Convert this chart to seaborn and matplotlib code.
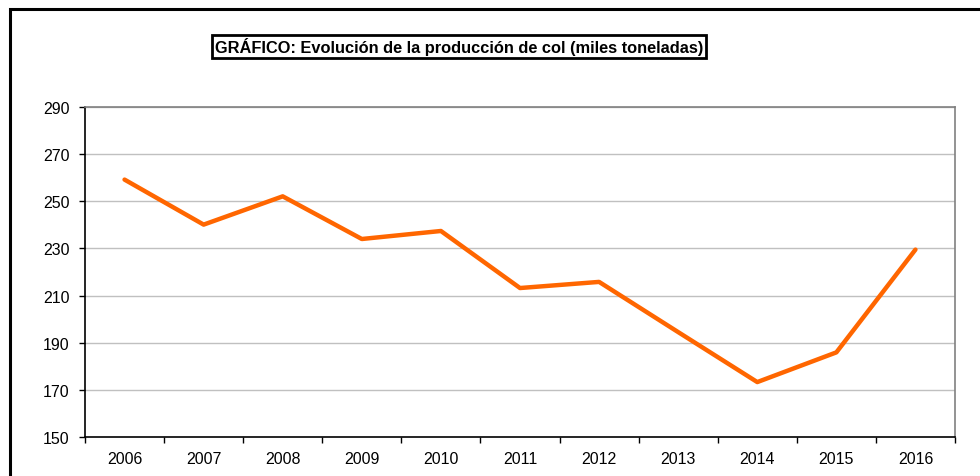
import matplotlib
matplotlib.use("Agg")
import matplotlib.pyplot as plt
from matplotlib.patches import Rectangle
from matplotlib.ticker import FixedLocator, NullFormatter
import pandas as pd
import seaborn as sns

# Production of cabbage, thousand tonnes
years = ["2006", "2007", "2008", "2009", "2010", "2011",
         "2012", "2013", "2014", "2015", "2016"]
produccion = [259.2, 240.1, 252.1, 234.0, 237.4, 213.2,
              215.8, 194.5, 173.3, 185.9, 229.5]
y_ticks = [150, 170, 190, 210, 230, 250, 270, 290]
titulo = "GRÁFICO: Evolución de la producción de col (miles toneladas)"

df = pd.DataFrame({"Año": years, "Producción": produccion})

sns.set_theme(style="white")
plt.rcParams["font.family"] = ["Liberation Sans", "DejaVu Sans"]

fig = plt.figure(figsize=(9.8, 4.77), dpi=100)
ax = fig.add_axes([85 / 980, 39 / 477, 870 / 980, 330 / 477])

sns.lineplot(data=df, x="Año", y="Producción", ax=ax,
             color="#FF6600", linewidth=3.2, sort=False)

ax.set_xlim(-0.5, len(years) - 0.5)
ax.set_ylim(y_ticks[0], y_ticks[-1])
ax.set_yticks(y_ticks)
ax.set_xlabel("")
ax.set_ylabel("")

# horizontal gridlines
ax.grid(False)
for v in y_ticks[1:]:
    ax.axhline(v, color="#C0C0C0", linewidth=1.0, zorder=0)

# category labels centred, tick marks on category boundaries
ax.xaxis.set_minor_locator(FixedLocator([i - 0.5 for i in range(len(years) + 1)]))
ax.xaxis.set_minor_formatter(NullFormatter())
ax.tick_params(axis="x", which="major", length=0, pad=10, labelsize=11.5, colors="black")
ax.tick_params(axis="x", which="minor", length=4, width=1, color="black", direction="out", bottom=True)
ax.tick_params(axis="y", which="major", length=4, width=1, color="black", direction="out",
               pad=7, labelsize=11.5, left=True, labelcolor="black")

for side in ("left", "bottom"):
    ax.spines[side].set_color("black")
    ax.spines[side].set_linewidth(1.2)
for side in ("top", "right"):
    ax.spines[side].set_color("#808080")
    ax.spines[side].set_linewidth(1.2)

# outer chart frame
fig.patches.append(Rectangle((10 / 980, -0.2), 1.2, (477 - 10) / 477 + 0.2,
                             transform=fig.transFigure, fill=False,
                             edgecolor="black", linewidth=2.2, clip_on=False))

fig.text(459 / 980, 1 - 47.5 / 477, titulo, ha="center", va="center",
         fontsize=11.8, fontweight="bold", color="black",
         bbox=dict(boxstyle="square,pad=0.18", facecolor="white",
                   edgecolor="black", linewidth=2))

fig.savefig("out.png", dpi=100, facecolor="white")
